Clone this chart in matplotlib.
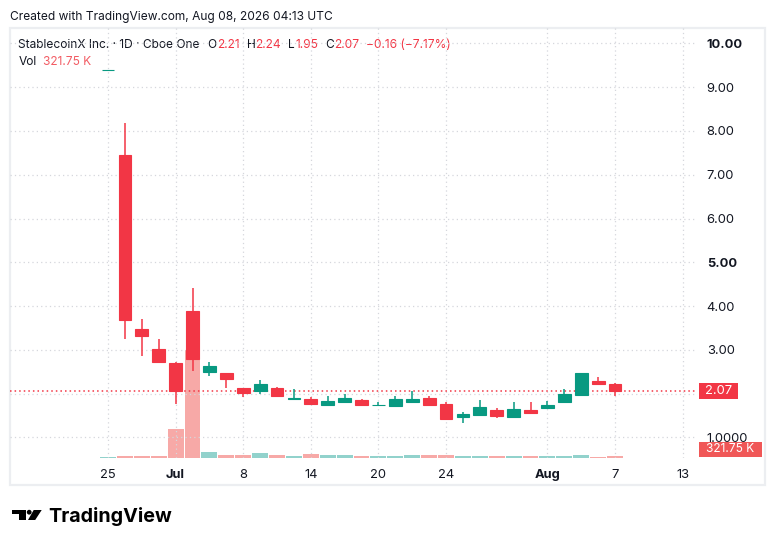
import numpy as np
import pandas as pd
import matplotlib
matplotlib.use("Agg")
import matplotlib.pyplot as plt
from matplotlib.patches import Rectangle, Circle, Polygon

plt.rcParams["font.family"] = ["Inter", "DejaVu Sans"]

# daily bars, StablecoinX Inc. (Cboe One)
dates = ["2026-06-25", "2026-06-26", "2026-06-29", "2026-06-30", "2026-07-01",
         "2026-07-02", "2026-07-06", "2026-07-07", "2026-07-08", "2026-07-09",
         "2026-07-10", "2026-07-13", "2026-07-14", "2026-07-15", "2026-07-16",
         "2026-07-17", "2026-07-20", "2026-07-21", "2026-07-22", "2026-07-23",
         "2026-07-24", "2026-07-27", "2026-07-28", "2026-07-29", "2026-07-30",
         "2026-07-31", "2026-08-03", "2026-08-04", "2026-08-05", "2026-08-06",
         "2026-08-07"]
opens = [9.39, 7.45, 3.48, 3.02, 2.71, 3.89, 2.50, 2.46, 2.12, 2.07,
         2.12, 1.87, 1.88, 1.75, 1.80, 1.86, 1.74, 1.71, 1.80, 1.90,
         1.77, 1.47, 1.52, 1.63, 1.47, 1.63, 1.67, 1.81, 1.97, 2.28, 2.21]
highs = [9.39, 8.19, 3.70, 3.25, 2.73, 4.41, 2.73, 2.48, 2.13, 2.30,
         2.14, 2.10, 1.92, 1.94, 1.99, 1.88, 1.81, 1.94, 2.06, 1.94,
         1.81, 1.57, 1.86, 1.67, 1.80, 1.80, 1.83, 2.10, 2.48, 2.37, 2.24]
lows = [9.39, 3.25, 2.86, 2.72, 1.77, 2.52, 2.41, 2.13, 1.92, 2.00,
        1.94, 1.87, 1.75, 1.74, 1.78, 1.73, 1.74, 1.71, 1.78, 1.72,
        1.42, 1.33, 1.49, 1.45, 1.47, 1.55, 1.66, 1.80, 1.96, 2.19, 1.95]
closes = [9.39, 3.68, 3.32, 2.73, 2.07, 2.78, 2.63, 2.33, 2.01, 2.23,
          1.95, 1.89, 1.77, 1.83, 1.91, 1.73, 1.75, 1.88, 1.88, 1.73,
          1.42, 1.54, 1.69, 1.49, 1.64, 1.55, 1.73, 1.99, 2.46, 2.23, 2.07]
volumes_k = [120, 330, 330, 330, 4650, 17300, 960, 480, 470, 800,
             450, 300, 590, 470, 460, 340, 330, 340, 480, 450,
             460, 320, 330, 310, 330, 320, 330, 340, 480, 170, 321.75]

tick_dates = ["2026-06-25", "2026-07-01", "2026-07-08", "2026-07-14", "2026-07-20",
              "2026-07-24", "2026-08-03", "2026-08-07", "2026-08-13"]
tick_labels = ["25", "Jul", "8", "14", "20", "24", "Aug", "7", "13"]
price_ticks = [1, 2, 3, 4, 5, 6, 7, 8, 9, 10]
price_labels = ["1.0000", "", "3.00", "4.00", "5.00", "6.00", "7.00", "8.00", "9.00", "10.00"]

RED = "#f23645"
GREEN = "#089981"
VOL_RED = "#f7a9a7"
VOL_GREEN = "#92d2cc"
TXT = "#131722"
FS = 8.6

# trading day index (Jul 3 market holiday)
cal = [d for d in pd.bdate_range("2026-06-25", "2026-08-14") if d != pd.Timestamp("2026-07-03")]
pos = {d.strftime("%Y-%m-%d"): i for i, d in enumerate(cal)}
x = np.array([pos[d] for d in dates])

o = np.array(opens)
h = np.array(highs)
l = np.array(lows)
c = np.array(closes)
v = np.array(volumes_k)
up = c >= o

W, H = 776, 546
fig = plt.figure(figsize=(W / 100, H / 100), dpi=100)
fig.patch.set_facecolor("white")

# overlay in pixel coords for frame / header / logo
ov = fig.add_axes([0, 0, 1, 1])
ov.set_xlim(0, W)
ov.set_ylim(H, 0)
ov.axis("off")
ov.add_patch(Rectangle((10, 28), 755, 457, fill=False, ec="#eceef1", lw=1.6))

ax_l, ax_r, ax_t, ax_b = 10, 697, 28, 458
ax = fig.add_axes([ax_l / W, (H - ax_b) / H, (ax_r - ax_l) / W, (ax_b - ax_t) / H])
axv = ax.twinx()
ax.set_zorder(3)
ax.patch.set_visible(False)
axv.set_zorder(2)

# volume
axv.bar(x, v, width=0.94, color=np.where(up, VOL_GREEN, VOL_RED), linewidth=0)
axv.set_ylim(0, v.max() * (ax_b - ax_t) / 108)
axv.set_yticks([])
for s in axv.spines.values():
    s.set_visible(False)

# candles
cols = np.where(up, GREEN, RED)
ax.vlines(x, l, h, colors=cols, linewidth=1.1, zorder=3)
body_lo = np.minimum(o, c)
body_h = np.abs(c - o)
ax.bar(x, body_h, bottom=body_lo, width=0.76, color=cols, edgecolor=cols,
       linewidth=0.8, zorder=4)

ax.axhline(c[-1], color=RED, linestyle=(0, (1, 2)), linewidth=1.1, zorder=2)

ax.set_xlim(-5.8, 34.85)
ax.set_ylim(0.529, 10.353)
ax.set_xticks([pos[d] for d in tick_dates])
ax.set_xticklabels(tick_labels)
ax.set_yticks(price_ticks)
ax.set_yticklabels(price_labels)
ax.yaxis.tick_right()
ax.tick_params(axis="x", length=0, pad=8, labelsize=9.3, labelcolor=TXT)
ax.tick_params(axis="y", length=0, pad=7, labelsize=9.3, labelcolor=TXT)
for lab in ax.get_xticklabels():
    if lab.get_text() in ("Jul", "Aug"):
        lab.set_fontweight("bold")
for lab in ax.get_yticklabels():
    if lab.get_text() in ("5.00", "10.00"):
        lab.set_fontweight("bold")
ax.grid(True, color="#d5d7dc", linestyle=(0, (1, 2.5)), linewidth=0.9)
ax.set_axisbelow(True)
for s in ax.spines.values():
    s.set_visible(False)

# last price box
y_last = H - ax.transData.transform((0, c[-1]))[1]
ov.add_patch(Rectangle((699, y_last - 8), 39, 16, color=RED, lw=0, zorder=5))
ov.text(718.5, y_last, f"{c[-1]:.2f}", color="white", fontsize=9.3,
        ha="center", va="center", zorder=6)
# last volume box
ov.add_patch(Rectangle((699, 441.7), 62.5, 15.6, color="#f05757", lw=0, zorder=5))
ov.text(730.2, 449.5, f"{v[-1]:.2f} K", color="white", fontsize=FS,
        ha="center", va="center", zorder=6)

# header
ov.text(10, 16.7, "Created with TradingView.com, Aug 08, 2026 04:13 UTC",
        fontsize=FS, color=TXT, va="center")
chg = c[-1] - c[-2]
segs = [
    (18.3, "StablecoinX Inc. · 1D · Cboe One", TXT),
    (207.3, "O", TXT), (216.7, f"{o[-1]:.2f}", RED),
    (246.7, "H", TXT), (255.0, f"{h[-1]:.2f}", RED),
    (288.3, "L", TXT), (295.0, f"{l[-1]:.2f}", RED),
    (325.0, "C", TXT), (334.3, f"{c[-1]:.2f}", RED),
    (365.7, f"\u2212{abs(chg):.2f} (\u2212{abs(chg) / c[-2] * 100:.2f}%)", RED),
]
for sx, s, col in segs:
    ov.text(sx, 45, s, fontsize=FS, color=col, va="center")
ov.text(18.3, 62.3, "Vol", fontsize=FS, color=TXT, va="center")
ov.text(42.7, 62.3, f"{v[-1]:.2f} K", fontsize=FS, color="#f25c64", va="center")

# logo
ov.add_patch(Rectangle((11.7, 510), 14, 3.7, color="black", lw=0))
ov.add_patch(Rectangle((18.7, 510), 7, 10, color="black", lw=0))
ov.add_patch(Circle((29.2, 512.2), 2.4, color="black", lw=0))
ov.add_patch(Polygon([(33.7, 510), (41.7, 510), (35.2, 520), (28.0, 520)],
                     closed=True, color="black", lw=0))
ov.text(48.5, 516, "TradingView", fontsize=14.2, fontweight="bold",
        color="black", va="center")

fig.savefig("out.png", dpi=100)
